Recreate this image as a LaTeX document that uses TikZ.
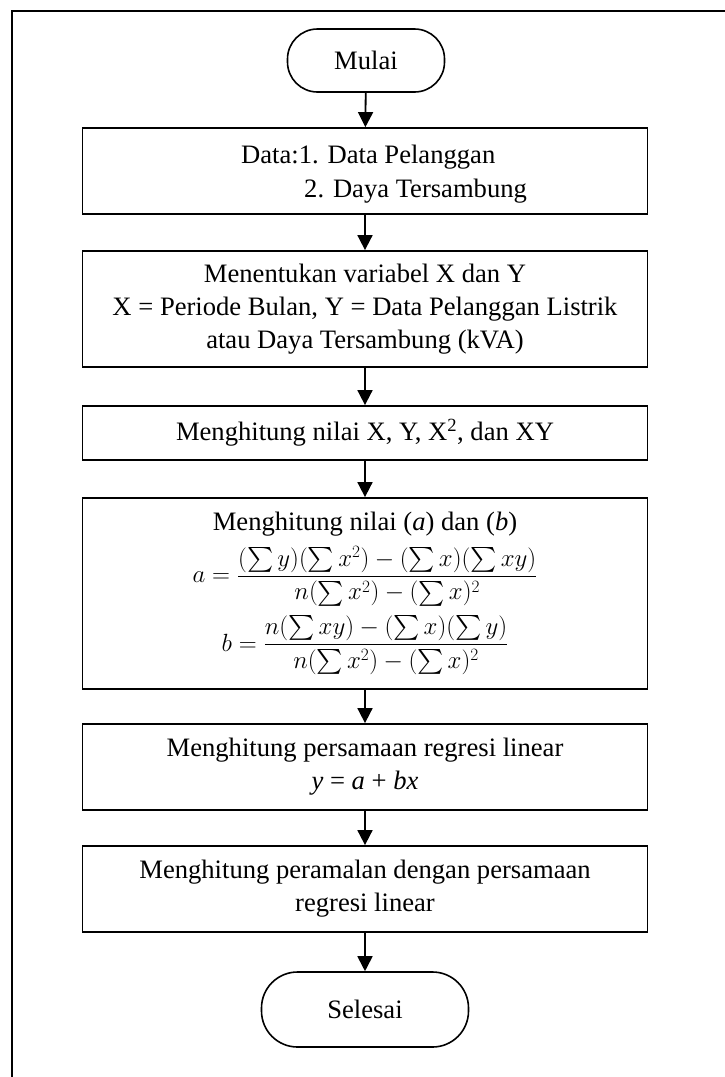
\documentclass[tikz,border=0pt]{standalone}
\usepackage{amsmath}
\usepackage{fontspec}
\setmainfont{Liberation Serif}
\usetikzlibrary{arrows.meta}
\begin{document}
\begin{tikzpicture}[x=1pt,y=-1pt,
  every node/.style={font=\fontsize{26.6}{33}\selectfont},
  proc/.style={draw, line width=1.8pt, minimum width=565pt, align=center, inner sep=0pt},
  term/.style={draw, line width=1.6pt, inner sep=0pt},
  arr/.style={line width=1.8pt, -{Triangle[width=15pt,length=15pt]}},
  frame/.style={line width=2.5pt}
]
\useasboundingbox (0,0) rectangle (725,1077);
\draw[frame] (12,1077) -- (12,11) -- (725,11);

\node[term, minimum width=157pt, minimum height=63pt, rounded corners=30pt] (start) at (366,60.5) {Mulai};

\node[proc, minimum height=86pt] (b1) at (365,171) {};
\node[anchor=base west, inner sep=0pt] (b1a) at (241,163) {Data:1. Data Pelanggan};
\node[anchor=base west, inner sep=0pt] (b1b) at (304,197) {2. Daya Tersambung};

\node[proc, minimum height=116pt] (b2) at (365,309) {Menentukan variabel X dan Y\\X = Periode Bulan, Y = Data Pelanggan Listrik\\atau Daya Tersambung (kVA)};

\node[proc, minimum height=54pt] (b3) at (365,433) {Menghitung nilai X, Y, X\textsuperscript{2}, dan XY};

\node[proc, minimum height=191pt] (b4) at (365,593.5) {};
\node[inner sep=0pt] (b4t) at (365,524) {Menghitung nilai (\textit{a}) dan (\textit{b})};
\node[inner sep=0pt] (b4a) at (365,576) {$\displaystyle a=\frac{(\sum y)(\sum x^2)-(\sum x)(\sum xy)}{n(\sum x^2)-(\sum x)^2}$};
\node[inner sep=0pt] (b4b) at (365,645) {$\displaystyle b=\frac{n(\sum xy)-(\sum x)(\sum y)}{n(\sum x^2)-(\sum x)^2}$};

\node[proc, minimum height=86pt] (b5) at (365,767) {Menghitung persamaan regresi linear\\\textit{y} = \textit{a} + \textit{bx}};

\node[proc, minimum height=86pt] (b6) at (365,889) {Menghitung peramalan dengan persamaan\\regresi linear};

\node[term, minimum width=207pt, minimum height=75pt, rounded corners=36pt] (end) at (365,1009.5) {Selesai};

\draw[arr] (start) -- (b1);
\draw[arr] (b1) -- (b2);
\draw[arr] (b2) -- (b3);
\draw[arr] (b3) -- (b4);
\draw[arr] (b4) -- (b5);
\draw[arr] (b5) -- (b6);
\draw[arr] (b6) -- (end);
\end{tikzpicture}
\end{document}
